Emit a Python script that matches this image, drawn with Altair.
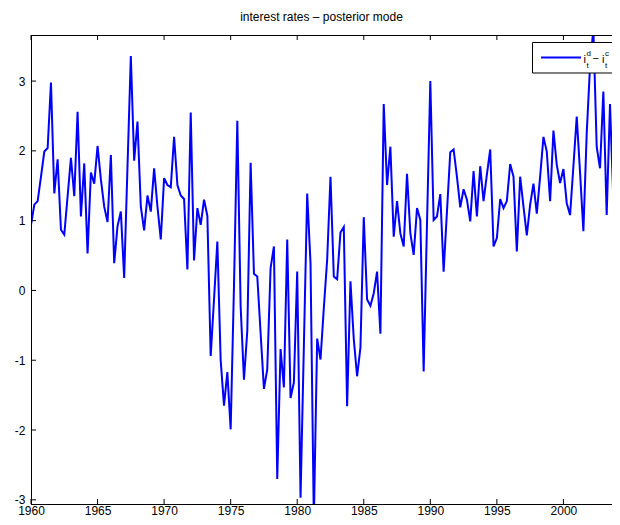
import altair as alt
import pandas as pd

# quarterly series, 1960Q1 ...
start_year = 1960
values = [
    0.94, 1.23, 1.28, 1.63, 1.99, 2.04, 2.98, 1.39, 1.88, 0.87,
    0.80, 1.35, 1.90, 1.35, 2.56, 1.06, 1.82, 0.53, 1.69, 1.53,
    2.07, 1.59, 1.20, 0.98, 1.94, 0.39, 0.92, 1.13, 0.18, 1.78,
    3.36, 1.86, 2.42, 1.20, 0.86, 1.36, 1.13, 1.75, 1.20, 0.73,
    1.61, 1.51, 1.48, 2.20, 1.51, 1.36, 1.31, 0.30, 2.55, 0.43,
    1.18, 0.94, 1.30, 1.07, -0.94, -0.13, 0.70, -1.00, -1.65, -1.17,
    -1.99, 0.06, 2.43, -0.23, -1.28, -0.58, 1.83, 0.24, 0.20, -0.61,
    -1.41, -1.13, 0.32, 0.63, -2.70, -0.84, -1.39, 0.73, -1.54, -1.32,
    0.27, -2.97, -0.80, 1.39, 0.39, -3.30, -0.69, -0.99, -0.25, 0.44,
    1.63, 0.20, 0.16, 0.83, 0.91, -1.66, 0.13, -0.70, -1.23, -0.82,
    1.05, -0.13, -0.22, -0.04, 0.27, -0.62, 2.67, 1.51, 2.06, 0.77,
    1.28, 0.82, 0.63, 1.67, 0.82, 0.51, 1.18, 1.01, -1.16, 0.95,
    3.00, 1.01, 1.06, 1.38, 0.27, 1.13, 1.98, 2.02, 1.63, 1.19,
    1.45, 1.30, 0.99, 1.71, 1.06, 1.78, 1.28, 1.66, 2.02, 0.63,
    0.75, 1.31, 1.18, 1.28, 1.81, 1.63, 0.56, 1.63, 1.20, 0.79,
    1.23, 1.53, 1.10, 1.63, 2.20, 1.99, 1.28, 2.29, 1.80, 1.54,
    1.74, 1.25, 1.08, 1.78, 2.49, 1.69, 0.85, 2.25, 3.21, 3.75,
    2.06, 1.75, 2.85, 1.08, 2.67, 1.30, 2.39, 0.78,
]
years = [start_year + i / 4 for i in range(len(values))]

x_ticks = [1960, 1965, 1970, 1975, 1980, 1985, 1990, 1995, 2000]
y_ticks = [-3, -2, -1, 0, 1, 2, 3]
x_domain = [1960, 2003.65]   # right edge of the visible window
y_domain = [-3.06, 3.66]
title_text = "interest rates \u2013 posterior mode"

FONT = "Liberation Sans"
W, H = 581, 469
BLUE = "#0000ff"

xscale = alt.Scale(domain=x_domain, nice=False, zero=False)
yscale = alt.Scale(domain=y_domain, nice=False, zero=False)

df = pd.DataFrame({"year": years, "value": values})
one = pd.DataFrame({"a": [0]})

axis_common = dict(ticks=False, domain=False, grid=False, title=None,
                   labelFont=FONT, labelFontSize=12, labelColor="black",
                   labelExpr="'' + datum.value", labelFlush=False)
xaxis = alt.Axis(values=x_ticks, labelPadding=1.5, **axis_common)
yaxis = alt.Axis(values=y_ticks, labelPadding=6, **axis_common)

line = alt.Chart(df).mark_line(color=BLUE, strokeWidth=2, clip=True).encode(
    x=alt.X("year:Q", scale=xscale, axis=xaxis),
    y=alt.Y("value:Q", scale=yscale, axis=yaxis),
)

ytick = alt.Chart(pd.DataFrame({"v": y_ticks})).mark_rule(color="black", strokeWidth=1).encode(
    y=alt.Y("v:Q", scale=yscale, axis=yaxis), x=alt.value(0), x2=alt.value(5))
xtick_b = alt.Chart(pd.DataFrame({"v": x_ticks})).mark_rule(color="black", strokeWidth=1).encode(
    x=alt.X("v:Q", scale=xscale, axis=xaxis), y=alt.value(H), y2=alt.value(H - 5))
xtick_t = alt.Chart(pd.DataFrame({"v": x_ticks})).mark_rule(color="black", strokeWidth=1).encode(
    x=alt.X("v:Q", scale=xscale, axis=xaxis), y=alt.value(0), y2=alt.value(5))

# frame (left, top, bottom; the right side lies beyond the visible window)
frame_left = alt.Chart(one).mark_rule(color="black", strokeWidth=1).encode(
    x=alt.value(0.5), y=alt.value(0), y2=alt.value(H + 1))
frame_top = alt.Chart(one).mark_rule(color="black", strokeWidth=1).encode(
    x=alt.value(0), x2=alt.value(W + 20), y=alt.value(0.5))
frame_bot = alt.Chart(one).mark_rule(color="black", strokeWidth=1).encode(
    x=alt.value(0), x2=alt.value(W + 20), y=alt.value(H + 0.5))

# legend box (manual, to allow sub/superscripts)
LX = -6
leg_box = alt.Chart(one).mark_rect(fill="white", stroke="black", strokeWidth=1).encode(
    x=alt.value(507.5 + LX), x2=alt.value(600), y=alt.value(7.5), y2=alt.value(38))
leg_line = alt.Chart(one).mark_rule(color=BLUE, strokeWidth=2).encode(
    x=alt.value(516 + LX), x2=alt.value(556 + LX), y=alt.value(22.5))

def txt(s, x, y, size):
    return alt.Chart(one).mark_text(text=s, font=FONT, fontSize=size, align="left",
                                    baseline="alphabetic", color="black").encode(
        x=alt.value(x + LX), y=alt.value(y))

leg_text = [
    txt("i", 558.5, 27.5, 11),
    txt("d", 561.5, 21, 8),
    txt("t", 561.5, 33, 8),
    txt("\u2212", 567.5, 26.5, 11),
    txt("i", 577, 27.5, 11),
    txt("c", 580, 21, 8),
    txt("t", 580, 33, 8),
]

chart = alt.layer(line, ytick, xtick_b, xtick_t, frame_left, frame_top, frame_bot,
                  leg_box, leg_line, *leg_text).properties(
    width=W, height=H,
    title=alt.TitleParams(title_text, font=FONT, fontSize=12, fontWeight="normal",
                          color="black", offset=11, anchor="middle"),
    autosize=alt.AutoSizeParams(type="none"),
    padding={"left": 23, "top": 27, "right": 0, "bottom": 13},
).configure_view(strokeWidth=0).configure(background="white")

chart.save("out.html", embed_options={"renderer": "svg", "actions": False})
